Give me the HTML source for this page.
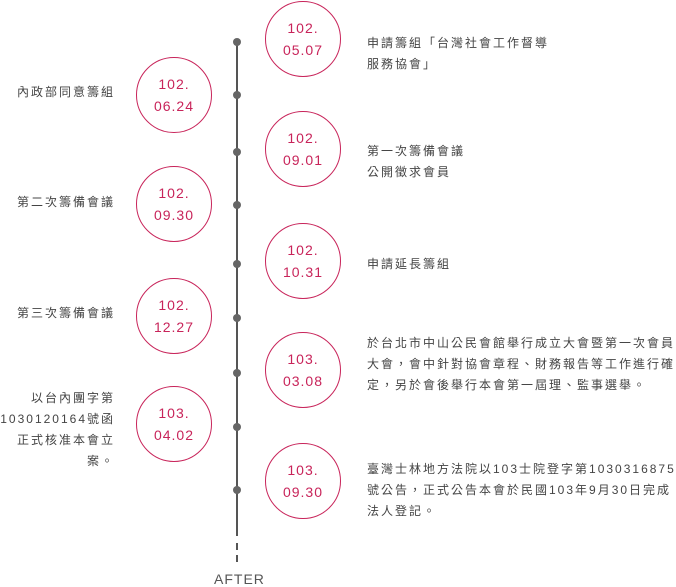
<!DOCTYPE html>
<html><head><meta charset="utf-8"><style>
body{margin:0;width:676px;height:587px;background:#fff;position:relative;overflow:hidden;font-family:"Liberation Sans","Noto Sans CJK TC",sans-serif;}
.line{position:absolute;left:236px;top:40px;width:2px;height:496px;background:#555;}
.dash{position:absolute;left:236px;width:1.5px;height:7px;background:#555;}
.dot{position:absolute;left:233px;width:8px;height:8px;border-radius:50%;background:#666;}
.c{position:absolute;width:76px;height:76px;border:1.3px solid #c8245a;border-radius:50%;background:#fff;color:#c8245a;font-size:14px;letter-spacing:1px;text-align:center;line-height:22px;box-sizing:border-box;padding-top:15px;}
.t{position:absolute;font-size:12px;color:#444;line-height:21px;letter-spacing:2px;}
.l{text-align:right;width:115px;left:0;}
.r{left:367px;width:310px;}
.after{position:absolute;left:214px;top:571px;font-size:14px;color:#555;letter-spacing:1px;}
</style></head><body>
<div class="line"></div>
<div class="dash" style="top:543px"></div>
<div class="dash" style="top:555px"></div>
<div class="dot" style="top:38px"></div>
<div class="dot" style="top:91px"></div>
<div class="dot" style="top:148px"></div>
<div class="dot" style="top:201px"></div>
<div class="dot" style="top:260px"></div>
<div class="dot" style="top:314px"></div>
<div class="dot" style="top:369px"></div>
<div class="dot" style="top:423px"></div>
<div class="dot" style="top:486px"></div>

<div class="c" style="left:265px;top:1px">102.<br>05.07</div>
<div class="c" style="left:265px;top:111px">102.<br>09.01</div>
<div class="c" style="left:265px;top:223px">102.<br>10.31</div>
<div class="c" style="left:265px;top:332px">103.<br>03.08</div>
<div class="c" style="left:265px;top:443px">103.<br>09.30</div>

<div class="c" style="left:136px;top:57px">102.<br>06.24</div>
<div class="c" style="left:136px;top:166px">102.<br>09.30</div>
<div class="c" style="left:136px;top:278px">102.<br>12.27</div>
<div class="c" style="left:136px;top:386px">103.<br>04.02</div>

<div class="t r" style="top:33px">申請籌組「台灣社會工作督導<br>服務協會」</div>
<div class="t r" style="top:141px">第一次籌備會議<br>公開徵求會員</div>
<div class="t r" style="top:254px">申請延長籌組</div>
<div class="t r" style="top:333px">於台北市中山公民會館舉行成立大會暨第一次會員<br>大會，會中針對協會章程、財務報告等工作進行確<br>定，另於會後舉行本會第一屆理、監事選舉。</div>
<div class="t r" style="top:459px">臺灣士林地方法院以103士院登字第1030316875<br>號公告，正式公告本會於民國103年9月30日完成<br>法人登記。</div>

<div class="t l" style="top:82px">內政部同意籌組</div>
<div class="t l" style="top:192px">第二次籌備會議</div>
<div class="t l" style="top:303px">第三次籌備會議</div>
<div class="t l" style="top:388px">以台內團字第<br>1030120164號函<br>正式核准本會立<br>案。</div>

<div class="after">AFTER</div>
</body></html>
